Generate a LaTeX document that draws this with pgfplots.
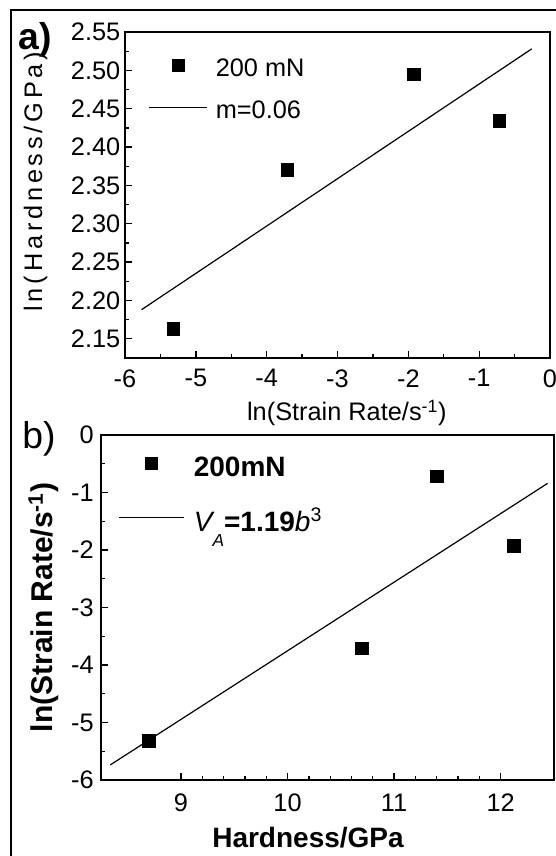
\documentclass[border=0pt]{standalone}
\usepackage{pgfplots}
\pgfplotsset{compat=1.18}
\usepackage{fontspec}
\setmainfont{Liberation Sans}

% shared look of both panels
\pgfplotsset{
  panel/.style={
    scale only axis,
    anchor=south west,
    clip=false,
    axis line style={line width=1.2pt},
    tick style={line width=1pt, black},
    tick align=inside,
    xtick pos=left, ytick pos=left,
    major tick length=5pt,
    minor tick length=3pt,
    /pgf/number format/assume math mode=true,
    tick label style={font=\fontsize{19}{22}\selectfont},
    legend cell align=left,
  },
  fitline/.style={black, line width=0.9pt},
  pts/.style={only marks, mark=square*, mark size=4.8pt, black},
}

\begin{document}
\begin{tikzpicture}
\useasboundingbox (0pt,0pt) rectangle (417pt,642pt);
% outer frame of the figure
\draw[line width=1.4pt] (8.25pt,-20pt) -- (8.25pt,634.5pt) -- (440pt,634.5pt);

% ---------------- panel a ----------------
\begin{axis}[panel,
  at={(93.75pt,373.5pt)},
  width=318.75pt, height=244.5pt,
  xmin=-6, xmax=0, ymin=2.125, ymax=2.55,
  xtick={-6,-5,-4,-3,-2,-1,0},
  ytick={2.15,2.20,2.25,2.30,2.35,2.40,2.45,2.50,2.55},
  minor x tick num=1, minor y tick num=1,
  yticklabel style={/pgf/number format/.cd, fixed, fixed zerofill, precision=2},
  xticklabel style={yshift=-5pt},
  xlabel={ln(Strain Rate/s\textsuperscript{-1})},
  ylabel={\addfontfeatures{LetterSpace=15}ln(Hardness/GPa)},
  xlabel style={at={(axis description cs:0.522,-0.193)}, anchor=base,
    font=\fontsize{19}{22}\selectfont},
  ylabel style={at={(axis description cs:-0.195,0.541)}, anchor=base,
    font=\fontsize{19}{22}\selectfont},
  legend style={at={(axis description cs:0.054,0.9387)}, anchor=north west,
    draw=none, fill=none, inner sep=0pt, row sep=8pt,
    font=\fontsize{19}{22}\selectfont,
    nodes={inner sep=0pt, text height=14pt, text depth=5pt}},
]
\addplot[pts, legend image code/.code={
    \path[draw=none, fill=none] (0pt,-5pt) rectangle (50.25pt,14pt);
    \draw[black, mark=square*, mark size=4.4pt] plot coordinates {(22pt,4.3pt)};}]
  table {
  x       y
  -5.318  2.163
  -3.709  2.370
  -1.926  2.495
  -0.716  2.434
  };
\addlegendentry{200 mN}
\addplot[fitline, legend image code/.code={
    \path[draw=none, fill=none] (0pt,-5pt) rectangle (50.25pt,14pt);
    \draw[black, line width=0.9pt] (0pt,4.3pt) -- (44pt,4.3pt);}]
  coordinates {(-5.766,2.188) (-0.258,2.528)};
\addlegendentry{m=0.06}
\end{axis}

% ---------------- panel b ----------------
\begin{axis}[panel,
  at={(75.75pt,57pt)},
  width=339.75pt, height=258.75pt,
  xmin=8.25, xmax=12.5, ymin=-6, ymax=0,
  xtick={9,10,11,12}, ytick={-6,-5,-4,-3,-2,-1,0},
  minor x tick num=4, minor y tick num=1,
  xticklabel style={yshift=-7pt},
  yticklabel style={xshift=-2pt},
  xlabel={Hardness/GPa},
  ylabel={ln(Strain Rate/s\textsuperscript{-1})},
  xlabel style={at={(axis description cs:0.457,-0.197)}, anchor=base,
    font=\fontsize{21}{24}\selectfont\bfseries},
  ylabel style={at={(axis description cs:-0.106,0.50)}, anchor=base,
    font=\fontsize{22.5}{25}\selectfont\bfseries},
  legend style={at={(axis description cs:0.0375,0.958)}, anchor=north west,
    draw=none, fill=none, inner sep=0pt, row sep=16pt,
    font=\fontsize{21}{24}\selectfont\bfseries,
    nodes={inner sep=0pt, text height=15pt, text depth=5pt}},
]
\addplot[pts, legend image code/.code={
    \path[draw=none, fill=none] (0pt,-5pt) rectangle (56.25pt,15pt);
    \draw[black, mark=square*, mark size=4.5pt] plot coordinates {(24.4pt,4.6pt)};}]
  table {
  x       y
  8.70    -5.318
  10.70   -3.709
  11.40   -0.716
  12.12   -1.926
  };
\addlegendentry{200mN}
\addplot[fitline, legend image code/.code={
    \path[draw=none, fill=none] (0pt,-5pt) rectangle (56.25pt,15pt);
    \draw[black, line width=0.9pt] (0pt,5.2pt) -- (48.75pt,5.2pt);}]
  coordinates {(8.336,-5.739) (12.44,-0.841)};
\addlegendentry{{\mdseries\itshape V}\raisebox{-0.55em}{\fontsize{13}{14}\selectfont\mdseries\itshape A}=1.19{\mdseries\itshape b}\textsuperscript{\mdseries 3}}
\end{axis}

% panel letters
\node[font=\fontsize{28}{30}\selectfont\bfseries] at (26.25pt,612pt) {a)};
\node[font=\fontsize{28}{30}\selectfont] at (29.25pt,312.75pt) {b)};
\end{tikzpicture}
\end{document}
